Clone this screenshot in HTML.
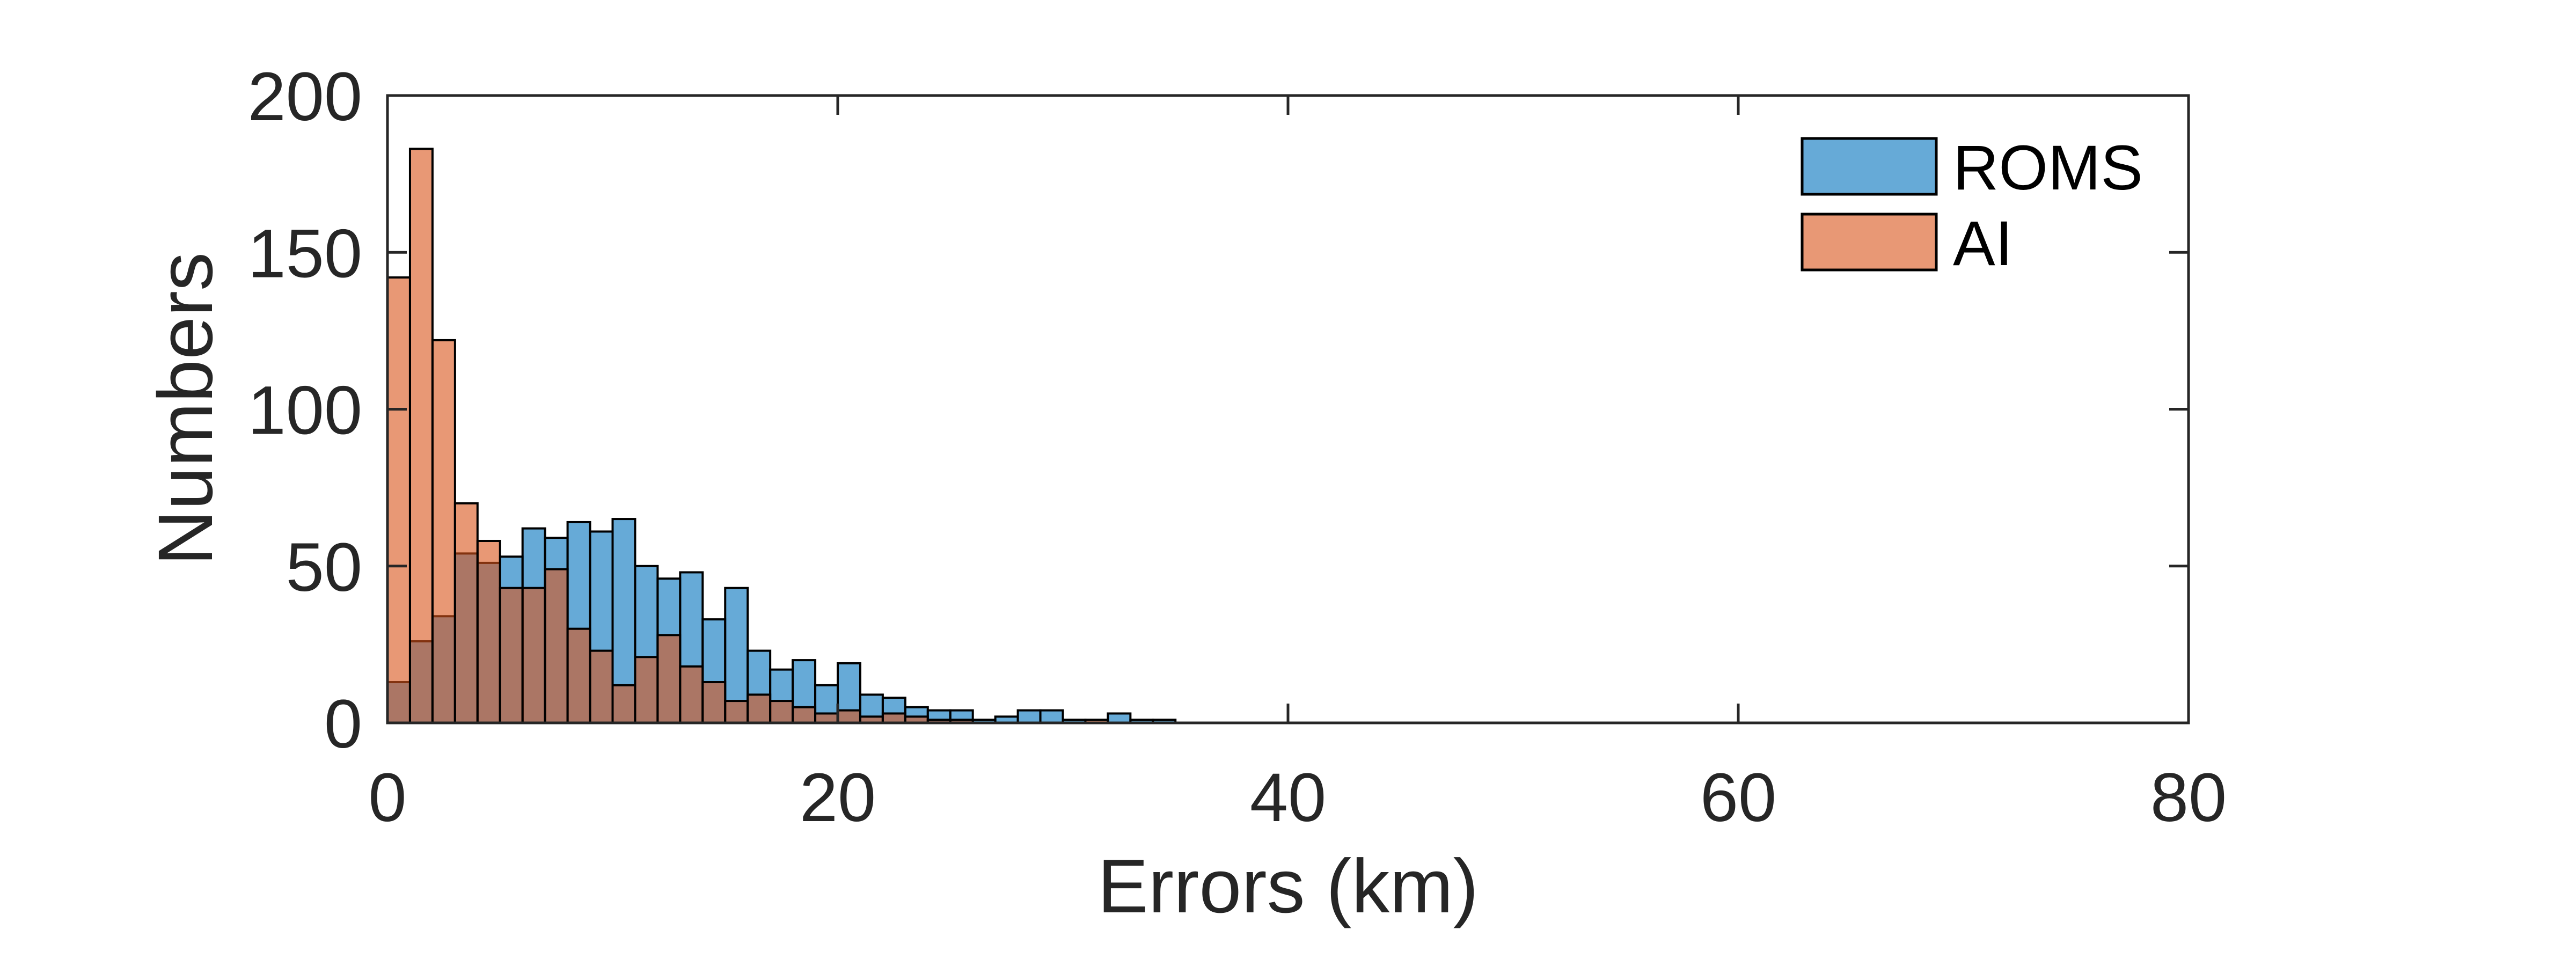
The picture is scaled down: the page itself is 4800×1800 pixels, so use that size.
<!DOCTYPE html>
<html><head><meta charset="utf-8"><style>
html,body{margin:0;padding:0;background:#fff;}
svg{display:block;font-family:"Liberation Sans",Arial,sans-serif;}
</style></head><body>
<svg id="chart" width="4800" height="1800" viewBox="0 0 4800 1800" xmlns="http://www.w3.org/2000/svg">
<rect x="0" y="0" width="4800" height="1800" fill="#fff"/>
<g id="bars-roms"></g>
<g id="bars-ai"></g>
<g id="axes"></g>
<g id="legend">
  <rect x="3358" y="258" width="250" height="104" fill="#66AAD7" stroke="#000" stroke-width="5"/>
  <text x="3639" y="353" font-size="118" fill="#000">ROMS</text>
  <rect x="3358" y="399" width="250" height="104" fill="#E89875" stroke="#000" stroke-width="5"/>
  <text x="3639" y="494" font-size="118" fill="#000">AI</text>
</g>
<text x="2400" y="1700" font-size="142" fill="#262626" text-anchor="middle">Errors (km)</text>
<text x="0" y="0" font-size="144" fill="#262626" text-anchor="middle" transform="translate(395,762) rotate(-90)">Numbers</text>
</svg>
<script>
const binEdgesStart = 0;
const binWidth = 1;
const romsCounts = [13,26,34,54,51,53,62,59,64,61,65,50,46,48,33,43,23,17,20,12,19,9,8,5,4,4,1,2,4,4,1,0,3,1,1];
const aiCounts = [142,183,122,70,58,43,43,49,30,23,12,21,28,18,13,7,9,7,5,3,4,2,3,2,1,1,0,0,0,0,0,1,0,0,0];
const xTicks = [0,20,40,60,80];
const yTicks = [0,50,100,150,200];

const X0=722, X1=4078, Y0=1347, Y1=178;
const xDomain=[0,80], yDomain=[0,200];
function sx(v){return X0+(v-xDomain[0])/(xDomain[1]-xDomain[0])*(X1-X0);}
function sy(v){return Y0-(v-yDomain[0])/(yDomain[1]-yDomain[0])*(Y0-Y1);}
const NS="http://www.w3.org/2000/svg";
function mk(tag,attrs,parent){const e=document.createElementNS(NS,tag);for(const k in attrs)e.setAttribute(k,attrs[k]);parent.appendChild(e);return e;}

const gR=document.getElementById('bars-roms');
romsCounts.forEach((c,i)=>{
  if(c<=0) return;
  const a=binEdgesStart+i*binWidth;
  const r=mk('rect',{x:sx(a),y:sy(c),width:sx(a+binWidth)-sx(a),height:sy(0)-sy(c),fill:'#0072BD','fill-opacity':0.6,stroke:'#000','stroke-width':4},gR);
  
  
});
const gA=document.getElementById('bars-ai');
aiCounts.forEach((c,i)=>{
  if(c<=0) return;
  const a=binEdgesStart+i*binWidth;
  const r=mk('rect',{x:sx(a),y:sy(c),width:sx(a+binWidth)-sx(a),height:sy(0)-sy(c),fill:'#D95319','fill-opacity':0.6,stroke:'#000','stroke-width':4},gA);
  
  
});

const gX=document.getElementById('axes');
const box=mk('rect',{x:X0,y:Y1,width:X1-X0,height:Y0-Y1,fill:'none',stroke:'#262626','stroke-width':5},gX);


const TL=36;
xTicks.forEach(v=>{
  const x=sx(v);
  mk('line',{x1:x,y1:Y0,x2:x,y2:Y0-TL,stroke:'#262626','stroke-width':5},gX);
  mk('line',{x1:x,y1:Y1,x2:x,y2:Y1+TL,stroke:'#262626','stroke-width':5},gX);
  const t=mk('text',{x:x,y:1530,'font-size':128,fill:'#262626','text-anchor':'middle'},gX);
  t.textContent=v;
  
  
});
yTicks.forEach(v=>{
  const y=sy(v);
  mk('line',{x1:X0,y1:y,x2:X0+TL,y2:y,stroke:'#262626','stroke-width':5},gX);
  mk('line',{x1:X1,y1:y,x2:X1-TL,y2:y,stroke:'#262626','stroke-width':5},gX);
  const t=mk('text',{x:675,y:y+46,'font-size':128,fill:'#262626','text-anchor':'end'},gX);
  t.textContent=v;
  
  
});
</script>
</body></html>
